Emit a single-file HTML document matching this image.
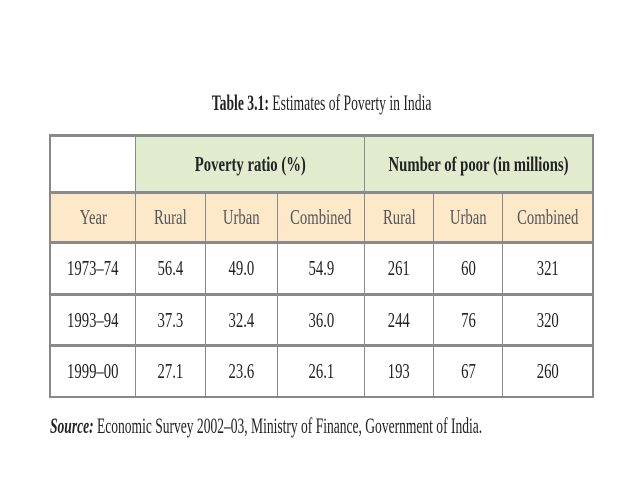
<!DOCTYPE html>
<html><head><meta charset="utf-8"><style>
body{margin:0;width:638px;height:479px;background:#fff;position:relative;overflow:hidden;font-family:"Liberation Serif",serif;color:#222}
.t{position:absolute;white-space:nowrap;transform-origin:center center}
.c{position:absolute;box-sizing:border-box;display:flex;align-items:center;justify-content:center;border:1px solid #8a8a8a}
.c span{display:inline-block;transform:scaleX(0.7);font-size:21px;white-space:nowrap}
.h span{color:#555}
.b span{font-weight:bold;color:#222}
</style></head><body>
<div class="t" style="left:151px;top:90px;width:320px;text-align:center;font-size:22px;transform:scaleX(0.62)"><b>Table 3.1:</b> Estimates of Poverty in India</div>
<div id="tbl" style="position:absolute;left:0;top:0;width:638px;height:479px;"></div>
<div class="t" style="left:50px;top:413px;font-size:22px;transform:scaleX(0.615);transform-origin:left center"><b><i>Source:</i></b> Economic Survey 2002–03, Ministry of Finance, Government of India.</div>
<script>
const years=["1973–74","1993–94","1999–00"];
const ruralRatio=["56.4","37.3","27.1"];
const urbanRatio=["49.0","32.4","23.6"];
const combinedRatio=["54.9","36.0","26.1"];
const ruralPoor=["261","244","193"];
const urbanPoor=["60","76","67"];
const combinedPoor=["321","320","260"];
const subHeads=["Year","Rural","Urban","Combined","Rural","Urban","Combined"];
const xs=[50,135,205,277,364,433,502,593];
const ys=[135,192,242,294,345,397];
const tbl=document.getElementById('tbl');
function cell(c0,c1,r0,r1,text,bg,cls,name){
  const d=document.createElement('div');
  d.className='c '+(cls||'');
  d.style.left=xs[c0]+'px';d.style.top=ys[r0]+'px';
  d.style.width=(xs[c1]-xs[c0]+1)+'px';d.style.height=(ys[r1]-ys[r0]+1)+'px';
  d.style.background=bg;
  d.style.borderWidth='2px 1px 2px 1px';
  
  
  const s=document.createElement('span');s.textContent=text;d.appendChild(s);
  tbl.appendChild(d);
}
cell(0,1,0,1,"","#fff","",'corner-cell');
cell(1,4,0,1,"Poverty ratio (%)","#e1ebcd","b",'poverty-ratio-header');
cell(4,7,0,1,"Number of poor (in millions)","#e1ebcd","b",'number-of-poor-header');
subHeads.forEach((h,i)=>cell(i,i+1,1,2,h,"#fde8ca","h",'subheader-'+i));
const cols=[years,ruralRatio,urbanRatio,combinedRatio,ruralPoor,urbanPoor,combinedPoor];
years.forEach((y,r)=>{
  cols.forEach((col,c)=>cell(c,c+1,r+2,r+3,col[r],"#fff","",'cell-r'+r+'-c'+c));
});
const frame=document.createElement('div');


frame.style.cssText='position:absolute;left:49px;top:134px;width:545px;height:264px;border:2px solid #888;box-sizing:border-box';
tbl.appendChild(frame);
</script>
</body></html>
